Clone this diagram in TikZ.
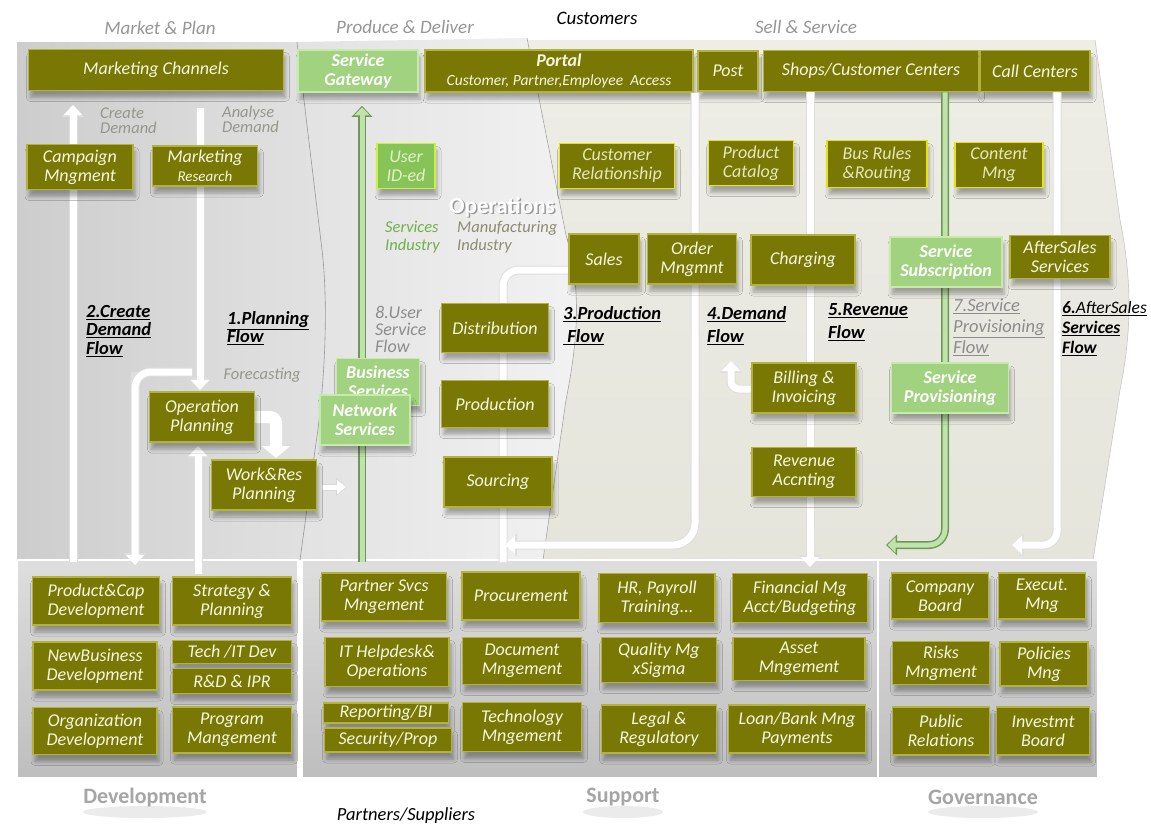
\documentclass[tikz,border=0pt]{standalone}
\usepackage{fontspec}
\setmainfont{Carlito}
\usetikzlibrary{arrows.meta,shadows.blur}
\definecolor{olv}{RGB}{122,120,4}
\definecolor{olvedge}{RGB}{180,178,62}
\definecolor{yedge}{RGB}{228,228,20}
\definecolor{gfill}{RGB}{160,210,128}
\definecolor{gedge}{RGB}{198,234,170}
\definecolor{ufill}{RGB}{135,196,88}
\definecolor{uedge}{RGB}{205,240,60}
\definecolor{utxt}{RGB}{228,240,205}
\definecolor{gdark}{RGB}{110,152,84}
\definecolor{glight}{RGB}{192,226,172}
\definecolor{boxtxt}{RGB}{246,246,228}
\definecolor{paletxt}{RGB}{230,230,192}
\definecolor{hdgray}{RGB}{150,150,150}
\definecolor{flgray}{RGB}{140,140,140}
\definecolor{smgray}{RGB}{150,150,140}
\definecolor{svgreen}{RGB}{112,176,72}
\definecolor{mfgray}{RGB}{140,140,112}
\definecolor{reg1a}{RGB}{205,205,205}
\definecolor{reg1b}{RGB}{226,226,226}
\definecolor{reg2a}{RGB}{226,226,226}
\definecolor{reg2b}{RGB}{242,242,242}
\definecolor{reg3a}{RGB}{238,237,230}
\definecolor{reg3b}{RGB}{230,229,220}
\definecolor{pan1}{RGB}{222,222,222}
\definecolor{pan2}{RGB}{236,236,236}
\definecolor{pan3}{RGB}{190,190,190}
\definecolor{botlbl}{RGB}{165,165,165}
\newcommand\BX[7]{\node[#1,minimum width=#5pt,minimum height=#6pt] (#2) at (#3,#4) {#7};}
\tikzset{
  bx/.style={draw=olvedge, line width=1.6pt, fill=olv, text=boxtxt,
    font=\fontsize{18}{19}\selectfont\itshape, align=center, inner sep=1pt,
    blur shadow={shadow xshift=2pt, shadow yshift=-7pt, shadow blur radius=4pt, shadow opacity=32}},
  ybx/.style={bx, draw=yedge, text=paletxt},
  gbx/.style={bx, fill=gfill, draw=gedge, text=white, font=\fontsize{18}{19}\selectfont\bfseries\itshape},
  ubx/.style={bx, fill=ufill, draw=uedge, text=utxt},
  hd/.style={text=hdgray, font=\fontsize{19}{20}\selectfont\itshape},
  fl/.style={anchor=north west, inner sep=0pt, align=left, font=\fontsize{18.5}{18.5}\selectfont\bfseries\itshape},
  flg/.style={anchor=north west, inner sep=0pt, align=left, text=flgray, font=\fontsize{18}{17}\selectfont\itshape},
  sm/.style={anchor=north west, inner sep=0pt, align=left, font=\fontsize{16.5}{18}\selectfont\itshape},
  blbl/.style={text=botlbl, font=\fontsize{22}{23}\selectfont\bfseries},
  wo/.style={line width=9pt, draw=black!13, rounded corners=16pt},
  wi/.style={line width=7pt, draw=white, rounded corners=16pt},
  tipo/.style={-{Triangle[length=12pt,width=22pt]}},
  tipi/.style={-{Triangle[length=10pt,width=18pt]}},
  go/.style={line width=8pt, draw=gdark, rounded corners=16pt},
  gi/.style={line width=5pt, draw=glight, rounded corners=16pt},
  gtipo/.style={-{Triangle[length=11pt,width=20pt]}},
  gtipi/.style={-{Triangle[length=8pt,width=15pt]}, shorten >=1.5pt},
}
\begin{document}
\begin{tikzpicture}[x=1pt,y=-1pt]
\useasboundingbox (0,0) rectangle (1151,825);
\fill[white] (0,0) rectangle (1151,825);

% upper regions
\shade[top color=reg3a, bottom color=reg3b] (515,40) -- (1095,40) -- (1120,220) .. controls (1132,280) and (1132,330) .. (1120,390) -- (1093,560) -- (515,560) -- cycle;
\draw[black!22, line width=0.6pt] (1095,40) -- (1120,220) .. controls (1132,280) and (1132,330) .. (1120,390) -- (1093,560);
\shade[left color=reg2a, right color=reg2b] (297,42) -- (527,38) -- (566,235) .. controls (580,285) and (580,330) .. (566,400) -- (543,560) -- (300,560) -- cycle;
\draw[black!35, line width=0.6pt] (527,38) -- (566,235) .. controls (580,285) and (580,330) .. (566,400) -- (543,560);
\shade[left color=reg1a, right color=reg1b] (17,42) -- (297,42) -- (322,250) .. controls (328,300) and (326,380) .. (315,450) -- (300,560) -- (17,560) -- cycle;
\draw[black!40, line width=0.6pt] (297,42) -- (322,250) .. controls (328,300) and (326,380) .. (315,450) -- (300,560);

% lower panels
\shade[top color=pan1, middle color=pan2, bottom color=pan3, draw=white, line width=1.5pt] (17,560) rectangle (298,778);
\shade[top color=pan1, middle color=pan2, bottom color=pan3, draw=white, line width=1.5pt] (302,560) rectangle (878,778);
\shade[top color=pan1, middle color=pan2, bottom color=pan3, draw=white, line width=1.5pt] (878,560) rectangle (1098,778);

% headings
\node[hd] (hmp) at (160,28) {Market \& Plan};
\node[hd] (hpd) at (405,27) {Produce \& Deliver};
\node[font=\fontsize{19}{20}\selectfont\itshape] (hcu) at (597,18) {Customers};
\node[hd] (hss) at (806,27) {Sell \& Service};
\node[sm, text=smgray] (lcd) at (100,108) {Create\\[-3pt]Demand};
\node[sm, text=smgray] (lad) at (222,106) {Analyse\\[-3pt]Demand};
\node[sm, text=smgray, anchor=center] (lfc) at (262,375) {Forecasting};
\node[sm, text=svgreen] (lsi) at (385,221) {Services\\Industry};
\node[sm, text=mfgray] (lmi) at (457,221) {Manufacturing\\Industry};
\node[font=\fontsize{23}{24}\selectfont\bfseries, text=black!40] (opssh) at (503.5,208.5) {Operations};
\node[font=\fontsize{23}{24}\selectfont\bfseries, text=white] (ops) at (502,207) {Operations};

% coordinates for flow ends
\coordinate (cdB) at (73,562);
\coordinate (cdT) at (73,105);
\coordinate (adT) at (200,108);
\coordinate (b1) at (192,372);
\coordinate (b2) at (135,372);
\coordinate (b3) at (135,565);
\coordinate (u1) at (198,574);
\coordinate (w1) at (276,417);
\coordinate (s1) at (322,487);
\coordinate (s2) at (347,487);
\coordinate (sgB) at (362,562);
\coordinate (pf2) at (503,270);
\coordinate (pf3) at (503,562);
\coordinate (pl2) at (695,545);
\coordinate (pl3) at (505,545);
\coordinate (rv2) at (810,567);
\coordinate (af2) at (1057,545);
\coordinate (af3) at (1012,545);
\coordinate (sp2) at (945,545);
\coordinate (sp3) at (886,545);
\coordinate (dm2) at (731,389);
\coordinate (dm3) at (731,361);

% top row boxes
\BX{bx}{mc}{156}{70}{255}{41}{Marketing Channels}
\BX{gbx}{sg}{358}{71}{120}{42}{Service\\Gateway}
\BX{bx}{portal}{559}{71}{268}{42}{{\bfseries Portal}\\{\fontsize{15.5}{16}\selectfont Customer, Partner,Employee~~Access}}
\BX{bx}{post}{728}{71}{60}{40}{Post}
\BX{bx}{shops}{871}{71}{215}{41}{Shops/Customer Centers}
\BX{bx}{call}{1035}{71}{110}{41}{Call Centers}

% flows (white)
\draw[wo,tipo] (cdB) -- (cdT);
\draw[wi,tipi] (cdB) -- (cdT);
\draw[wo] (b1) -- (b2) -- (b3);
\draw[wo,tipo] (b2) -- (b3);
\draw[wi,tipi] (b1) -- (b2) -- (b3);
\draw[wo,tipo] (adT) -- (200,390);
\draw[wi,tipi] (adT) -- (200,390);
\draw[wo,tipo] (u1) -- (198,446);
\draw[wi,tipi] (u1) -- (198,446);
\draw[line width=14pt, draw=black!13, rounded corners=6pt, -{Triangle[length=14pt,width=32pt]}] (250,417) -- (w1) -- (276,458);
\draw[line width=12pt, draw=white, rounded corners=6pt, -{Triangle[length=12pt,width=28pt]}] (250,417) -- (w1) -- (276,458);
\draw[line width=7pt, draw=black!15, -{Triangle[length=11pt,width=18pt]}] (s1) -- (s2);
\draw[line width=5pt, draw=white, -{Triangle[length=9pt,width=14pt]}, shorten >=1pt] (s1) -- (s2);
\draw[wo] (604,270) -- (pf2) -- (pf3);
\draw[wi] (604,270) -- (pf2) -- (pf3);
\draw[wo,tipo,rounded corners=22pt] (portal.south -| 695,0) -- (pl2) -- (pl3);
\draw[wi,tipi,rounded corners=22pt] (portal.south -| 695,0) -- (pl2) -- (pl3);
\draw[wo,tipo] (shops.south -| 810,0) -- (rv2);
\draw[wi,tipi] (shops.south -| 810,0) -- (rv2);
\draw[wo,tipo,rounded corners=14pt] (call.south -| 1057,0) -- (af2) -- (af3);
\draw[wi,tipi,rounded corners=14pt] (call.south -| 1057,0) -- (af2) -- (af3);
\draw[wo,tipo,rounded corners=8pt] (780,389) -- (dm2) -- (dm3);
\draw[wi,tipi,rounded corners=8pt] (780,389) -- (dm2) -- (dm3);
% flows (green)
\draw[go,gtipo,shorten >=13pt] (sgB) -- (sg.south -| sgB);
\draw[gi,gtipi,shorten >=14.5pt] (sgB) -- (sg.south -| sgB);
\draw[go,gtipo] (shops.south -| 945,0) -- (sp2) -- (sp3);
\draw[gi,gtipi] (shops.south -| 945,0) -- (sp2) -- (sp3);

% flow labels
\node[fl] (f2) at (86,305) {\underline{2.Create}\\\underline{Demand}\\\underline{Flow}};
\node[fl] (f1) at (227,311) {\underline{1.Planning}\\\underline{Flow}};
\node[flg] (f8) at (375,306) {8.User\\Service\\Flow};
\node[fl] (f3) at (563,306) {\underline{3.Production}\\[4.5pt]\underline{~Flow}};
\node[fl] (f4) at (707,306) {\underline{4.Demand}\\[4.5pt]\underline{Flow}};
\node[fl] (f5) at (828,303) {\underline{5.Revenue}\\[4.5pt]\underline{Flow}};
\node[flg, font=\fontsize{18.5}{21}\selectfont\itshape] (f7) at (953,299) {\underline{7.Service}\\\underline{Provisioning}\\\underline{Flow}};
\node[fl, font=\fontsize{17.5}{20}\selectfont\bfseries\itshape] (f6) at (1062,301) {\underline{6.{\mdseries AfterSales}}\\\underline{Services}\\\underline{Flow}};

% middle boxes
\BX{bx}{cmg}{80}{167}{106}{45}{Campaign\\Mngment}
\BX{bx}{mr}{205}{166}{105}{40}{Marketing\\{\fontsize{15}{16}\selectfont Research}}
\BX{ubx}{ui}{406}{166}{58}{45}{User\\ID-ed}
\BX{ybx}{cr}{617}{166}{115}{45}{Customer\\Relationship}
\BX{ybx}{pc}{751}{163}{85}{45}{Product\\Catalog}
\BX{ybx}{br}{877}{164}{100}{47}{Bus Rules\\\&Routing}
\BX{ybx}{cm}{999}{165}{88}{45}{Content\\Mng}
\BX{bx}{sales}{604}{259}{70}{50}{Sales}
\BX{bx}{om}{692}{259}{89}{50}{Order\\Mngmnt}
\BX{bx}{chg}{803}{260}{104}{50}{Charging}
\BX{gbx}{ss}{946}{262}{112}{50}{Service\\Subscription}
\BX{bx}{as}{1060}{257}{100}{43}{AfterSales\\Services}
\BX{bx}{dist}{495}{328}{107}{49}{Distribution}
\BX{bx}{prod}{495}{404}{107}{47}{Production}
\BX{bx}{src}{498}{482}{108}{50}{Sourcing}
\BX{gbx}{bs}{378}{382}{83}{47}{Business\\Services}
\BX{gbx}{ns}{365}{420}{90}{50}{Network\\Services}
\BX{bx}{bill}{804}{388}{104}{50}{Billing \&\\Invoicing}
\BX{bx}{rev}{804}{472}{104}{49}{Revenue\\Accnting}
\BX{gbx}{spv}{950}{388}{117}{50}{Service\\Provisioning}
\BX{bx}{opl}{202}{417}{105}{50}{Operation\\Planning}
\BX{bx}{wrp}{264}{485}{105}{50}{Work\&Res\\Planning}

% development
\BX{bx}{pcd}{96}{601}{127}{48}{Product\&Cap\\Development}
\BX{bx}{stp}{232}{601}{119}{48}{Strategy \&\\Planning}
\BX{bx}{nbd}{95}{666}{124}{48}{NewBusiness\\Development}
\BX{bx}{tid}{232}{652}{119}{23}{Tech /IT Dev}
\BX{bx}{rdi}{232}{681}{119}{25}{R\&D \& IPR}
\BX{bx}{od}{95}{731}{124}{47}{Organization\\Development}
\BX{bx}{pmg}{232}{730}{119}{46}{Program\\Mangement}
% support
\BX{bx}{psm}{384}{597}{125}{48}{Partner Svcs\\Mngement}
\BX{bx}{proc}{521}{596}{118}{48}{Procurement}
\BX{bx}{hr}{657}{598}{116}{49}{HR, Payroll\\Training...}
\BX{bx}{fin}{800}{598}{135}{49}{Financial Mg\\Acct/Budgeting}
\BX{bx}{ith}{387}{662}{124}{49}{IT Helpdesk\&\\Operations}
\BX{bx}{doc}{522}{661}{119}{47}{Document\\Mngement}
\BX{bx}{qm}{659}{660}{115}{45}{Quality Mg\\xSigma}
\BX{bx}{am}{799}{659}{132}{43}{Asset\\Mngement}
\BX{bx}{rep}{386}{713}{125}{20}{Reporting/BI}
\BX{bx}{sec}{388}{740}{127}{24}{Security/Prop}
\BX{bx}{tech}{522}{727}{119}{49}{Technology\\Mngement}
\BX{bx}{leg}{659}{729}{115}{48}{Legal \&\\Regulatory}
\BX{bx}{loan}{797}{729}{137}{48}{Loan/Bank Mng\\Payments}
% governance
\BX{bx}{cb}{940}{596}{97}{46}{Company\\Board}
\BX{bx}{em}{1042}{596}{87}{46}{Execut.\\Mng}
\BX{bx}{rm}{941}{663}{97}{43}{Risks\\Mngment}
\BX{bx}{pol}{1044}{664}{88}{44}{Policies\\Mng}
\BX{bx}{pr}{941}{731}{97}{48}{Public\\Relations}
\BX{bx}{ib}{1043}{731}{93}{48}{Investmt\\Board}

% bottom labels
\fill[black, opacity=0.08] (145,812) ellipse (62pt and 6pt);
\fill[black, opacity=0.08] (623,812) ellipse (40pt and 6pt);
\fill[black, opacity=0.08] (983,812) ellipse (55pt and 6pt);
\node[blbl] (ldev) at (145,797) {Development};
\node[blbl] (lsup) at (623,797) {Support};
\node[blbl] (lgov) at (983,797) {Governance};
\node[font=\fontsize{18.5}{19}\selectfont\itshape] (lps) at (406,816) {Partners/Suppliers};
\end{tikzpicture}
\end{document}
